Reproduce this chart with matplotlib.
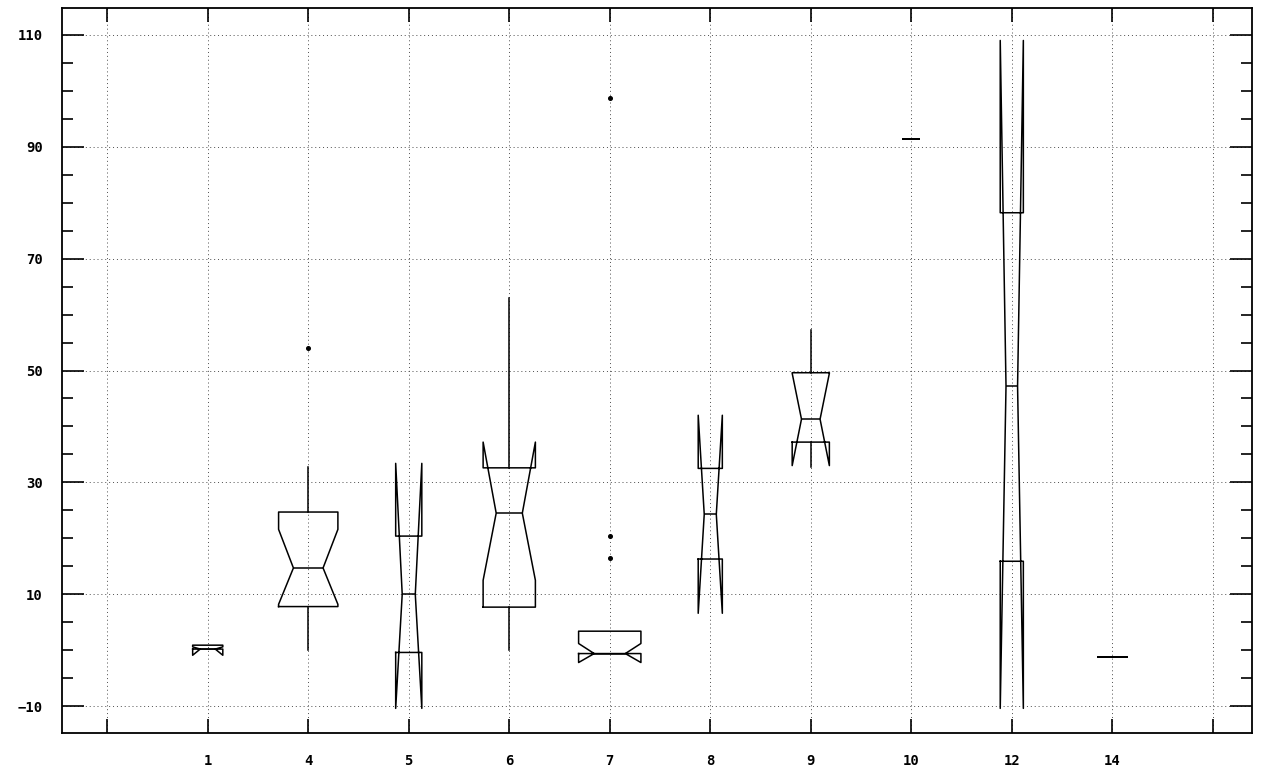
import matplotlib
matplotlib.use("Agg")
import matplotlib.pyplot as plt
from matplotlib.ticker import MultipleLocator

# ---- data ----
categories = ['1', '4', '5', '6', '7', '8', '9', '10', '12', '14']
medians  = [0.2, 14.7, 10.0, 24.5, -0.6, 24.3, 41.3, 91.4, 47.2, -1.2]
q1       = [0.2, 7.8, -0.4, 7.7, -0.6, 16.3, 37.2, 91.4, 15.9, -1.2]
q3       = [0.9, 24.7, 20.4, 32.6, 3.4, 32.5, 49.6, 91.4, 78.2, -1.2]
whislo   = [0.2, 0.0, -0.4, 0.0, -0.6, 16.3, 32.8, 91.4, 15.9, -1.2]
whishi   = [0.9, 32.7, 20.4, 63.0, 3.4, 32.5, 57.2, 91.4, 78.2, -1.2]
notch_lo = [-0.9, 8.2, -10.4, 12.5, -2.2, 6.6, 33.0, 91.4, -10.4, -1.2]
notch_hi = [0.6, 21.6, 33.4, 37.2, 1.2, 42.0, 49.5, 91.4, 109.0, -1.2]
outliers = [[], [54.0], [], [], [16.4, 20.4, 98.7], [], [], [], [], []]

# box widths (size/style, in category units)
box_widths = [0.30, 0.59, 0.26, 0.52, 0.62, 0.24, 0.37, 0.16, 0.23, 0.29]

stats = []
for i, c in enumerate(categories):
    stats.append(dict(label=c, med=medians[i], q1=q1[i], q3=q3[i],
                      whislo=whislo[i], whishi=whishi[i],
                      cilo=notch_lo[i], cihi=notch_hi[i],
                      fliers=outliers[i]))

fig = plt.figure(figsize=(12.67, 7.73), dpi=100)
ax = fig.add_axes([62/1267, 40/773, (1252-62)/1267, (765-40)/773])

positions = list(range(1, len(categories) + 1))
lw = 1.1
ax.bxp(stats, positions=positions, widths=box_widths, shownotches=True,
       showcaps=False, showfliers=True, manage_ticks=False,
       boxprops=dict(color='black', linewidth=lw),
       whiskerprops=dict(color='black', linewidth=lw),
       medianprops=dict(color='black', linewidth=lw),
       flierprops=dict(marker='o', markersize=2.6, markerfacecolor='black',
                       markeredgecolor='black', linestyle='none'))

ax.set_xlim(-0.45, 11.39)
ax.set_ylim(-14.8, 114.8)

xt = [0] + positions + [len(categories) + 1]
ax.set_xticks(xt)
ax.set_xticklabels([''] + categories + [''])
ax.set_yticks([-10, 10, 30, 50, 70, 90, 110])
ax.yaxis.set_minor_locator(MultipleLocator(5))

for lab in ax.get_xticklabels() + ax.get_yticklabels():
    lab.set_fontfamily('DejaVu Sans Mono')
    lab.set_fontweight('bold')
    lab.set_fontsize(10)

ax.tick_params(axis='y', which='major', direction='in', length=16, width=1.2,
               left=True, right=True, pad=14)
ax.tick_params(axis='y', which='minor', direction='in', length=8, width=1.2,
               left=True, right=True)
ax.tick_params(axis='x', which='major', direction='in', length=10, width=1.2,
               top=True, bottom=True, pad=15)
ax.tick_params(axis='x', which='minor', bottom=False, top=False)

ax.grid(True, which='major', linestyle=(0, (1, 3)), linewidth=0.7, color='0.3')
ax.set_axisbelow(True)

for s in ax.spines.values():
    s.set_linewidth(1.3)
    s.set_color('black')

fig.savefig('out.png', dpi=100)
